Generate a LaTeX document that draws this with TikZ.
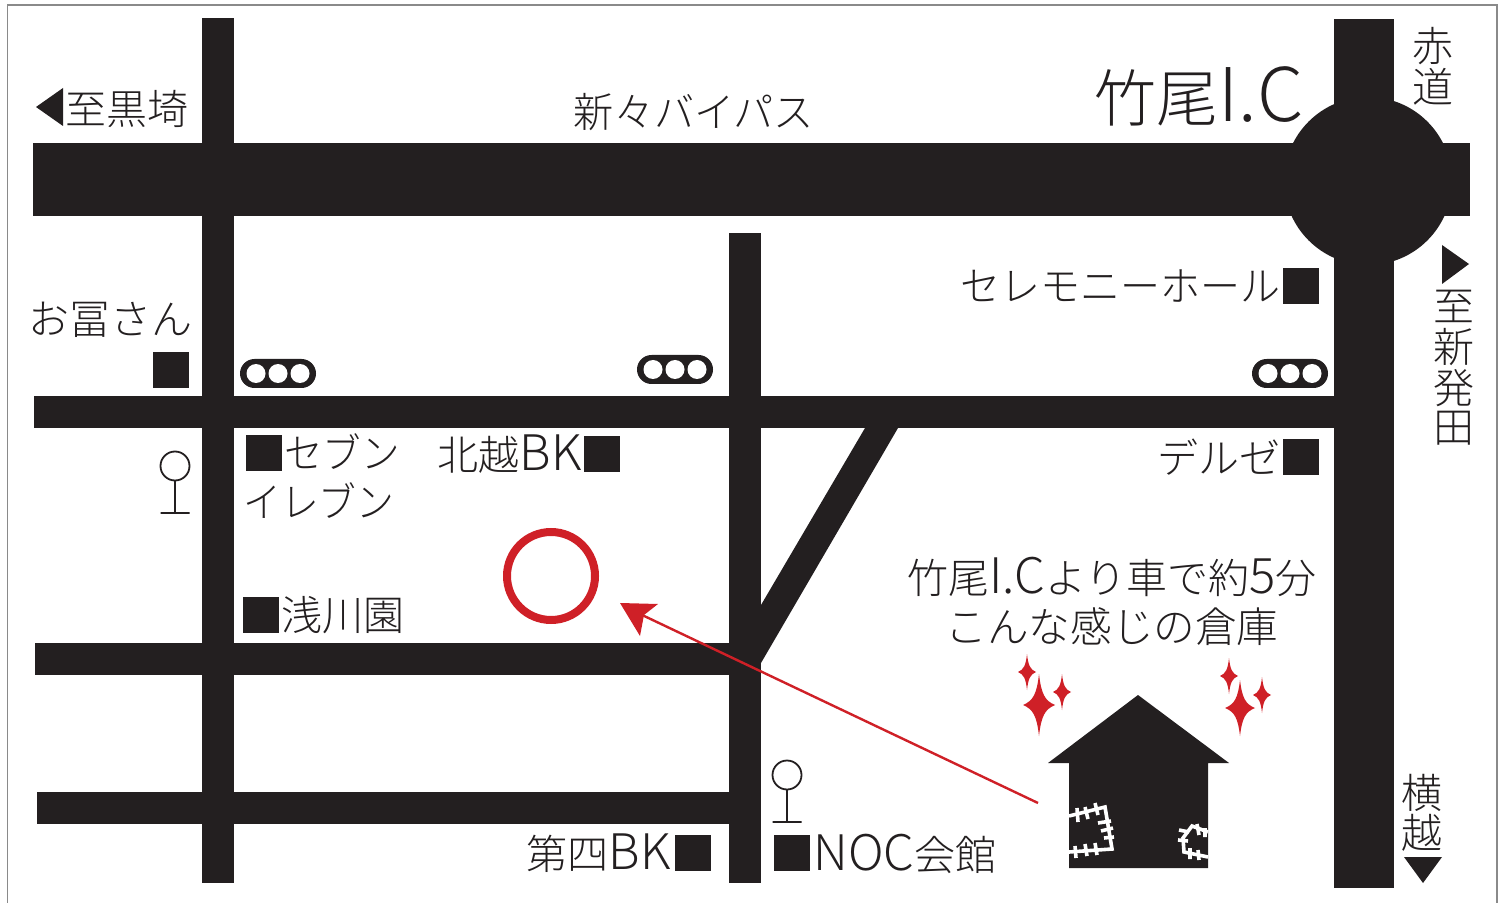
\documentclass[tikz,border=0pt]{standalone}
\usepackage{fontspec}
\setmainfont{Noto Sans CJK JP Light}
\definecolor{ink}{HTML}{231F20}
\definecolor{redc}{HTML}{CF2027}
\definecolor{framec}{HTML}{8A8A8A}
\tikzset{
  road/.style={fill=ink,draw=none},
  lbl/.style={inner sep=0pt,text=ink,font=\fontsize{20.5}{24}\selectfont},
  shop/.style={fill=ink,draw=none},
  pin/.style={draw=ink,line width=0.9pt},
  stitch/.style={draw=white,line width=1.8pt},
}
\newcommand\lat[2][24.5]{{\fontsize{#1}{24}\selectfont #2}}
\newcommand\sparkle[4]{\fill[redc] (#1,#2-#4) .. controls (#1+.14*#3,#2-.36*#4) and (#1+.36*#3,#2-.14*#4) .. (#1+#3,#2) .. controls (#1+.36*#3,#2+.14*#4) and (#1+.14*#3,#2+.36*#4) .. (#1,#2+#4) .. controls (#1-.14*#3,#2+.36*#4) and (#1-.36*#3,#2+.14*#4) .. (#1-#3,#2) .. controls (#1-.36*#3,#2-.14*#4) and (#1-.14*#3,#2-.36*#4) .. cycle;}
\newcommand\sq[1]{\fill[shop] (#1) rectangle ++(36,36);}
\newcommand\signal[2]{\fill[ink,rounded corners=14.5*0.5pt] (#1,#2) rectangle ++(76,29);
  \fill[white] (#1+16,#2+14.5) circle[radius=9.5] (#1+38,#2+14.5) circle[radius=9.5] (#1+60,#2+14.5) circle[radius=9.5];}
\newcommand\pinmark[2]{\draw[pin] (#1,#2) circle[radius=14.5] (#1,#2+14.5) -- (#1,#2+47) (#1-14.5,#2+47) -- (#1+14.5,#2+47);}
\begin{document}
\begin{tikzpicture}[x=0.5pt,y=-0.5pt]
\useasboundingbox (0,0) rectangle (1509,903);
\draw[framec,line width=0.75pt] (7.5,903) -- (7.5,5) -- (1497,5) -- (1497,903);
% roads
\fill[road] (202,18) rectangle (234,883);
\fill[road] (33,143) rectangle (1470,216);
\fill[road] (34,396) rectangle (1334,428);
\fill[road] (35,643) rectangle (730,675);
\fill[road] (37,792) rectangle (730,824);
\fill[road] (729,233) rectangle (761,883);
\fill[road] (1334,19) rectangle (1394,888);
\fill[road] (1368,181) circle[radius=84];
\fill[road] (865,428) -- (898,428) -- (761,663) -- (761,605) -- cycle;
% signals
\signal{240}{359}
\signal{637}{355}
\signal{1252}{359}
% shop squares
\sq{153,352}
\sq{246,435}
\sq{584,436}
\sq{1283,268}
\sq{1283,439}
\sq{243,597}
\sq{675,835}
\sq{774,835}
% pins
\pinmark{175}{466}
\pinmark{787}{775}
% direction triangles
\fill[ink] (36,107) -- (63,88) -- (63,126) -- cycle;
\fill[ink] (1469,264) -- (1442,245) -- (1442,284) -- cycle;
\fill[ink] (1423,883) -- (1404,857) -- (1442,857) -- cycle;
% labels
\node[lbl,anchor=west] (kurosaki) at (65,109) {至黒埼};
\node[lbl] (bypass) at (694,112) {\scalebox{.98}[1]{新々バイパス}};
\node[lbl,anchor=east,font=\fontsize{31}{36}\selectfont] (ic) at (1304,96) {竹尾\lat[37]{I.C}};
\node[lbl] (aka) at (1433,46) {赤};
\node[lbl] (michi) at (1433,87) {道};
\node[lbl] (shi) at (1454,306) {至};
\node[lbl] (shin) at (1454,347) {新};
\node[lbl] (hatsu) at (1454,388) {発};
\node[lbl] (den) at (1454,428) {田};
\node[lbl,anchor=east] (cere) at (1281,286) {\scalebox{.975}[1]{セレモニーホール}};
\node[lbl,anchor=west] (otomi) at (28,320) {お冨さん};
\node[lbl,anchor=west] (seven) at (284,452) {\scalebox{.94}[1]{セブン}};
\node[lbl,anchor=west] (eleven) at (243,501) {\scalebox{.92}[1]{イレブン}};
\node[lbl,anchor=east] (hokuetsu) at (582,454) {北越\lat{BK}};
\node[lbl,anchor=east] (deruze) at (1281,457) {デルゼ};
\node[lbl,anchor=west] (asakawa) at (281,615) {浅川園};
\node[lbl] (ic5) at (1112,577) {竹尾\lat{I.C}より車で約\lat{5}分};
\node[lbl,font=\fontsize{20.8}{24}\selectfont] (konna) at (1112,627) {こんな感じの倉庫};
\node[lbl,anchor=east] (daishi) at (671,853) {第四\lat{BK}};
\node[lbl,anchor=west] (noc) at (813,854) {\lat{NOC}会館};
\node[lbl] (yoko) at (1422,793) {横};
\node[lbl] (koshi) at (1422,833) {越};
% target circle and arrow
\draw[redc,line width=4pt] (551,576) circle[radius=44];
\coordinate (from) at (1038,803);
\coordinate (to) at (640,614);
\draw[redc,line width=1.2pt] (from) -- (to);
\fill[redc] (620,603) -- (658,604) -- (644,615) -- (640,636) -- cycle;
% sparkles
\sparkle{1039}{705}{16}{31}
\sparkle{1027}{672}{9}{18}
\sparkle{1062}{692}{9}{18}
\sparkle{1240}{708}{15}{28}
\sparkle{1229}{676}{9}{18}
\sparkle{1262}{695}{9}{18}
% house
\fill[ink] (1138,695) -- (1229,763) -- (1208,763) -- (1208,868) -- (1069,868) -- (1069,763) -- (1048,763) -- cycle;
% patches
\draw[stitch] (1069,816) -- (1105,807) -- (1112,849) -- (1069,852);
\draw[stitch] (1077,808) -- (1078,822) (1085,807) -- (1088,819) (1095,803) -- (1098,815)
  (1098,823) -- (1111,821) (1101,831) -- (1113,828) (1104,838) -- (1114,837)
  (1075,846) -- (1076,858) (1085,844) -- (1087,856) (1095,843) -- (1097,855);
\draw[stitch] (1208,832) -- (1192,826) -- (1183,838) -- (1184,852) -- (1208,857);
\draw[stitch] (1197,824) -- (1199,835) (1205,828) -- (1205,837)
  (1179,830) -- (1189,832) (1178,840) -- (1188,841)
  (1190,848) -- (1190,859) (1198,850) -- (1199,860);
\end{tikzpicture}
\end{document}
